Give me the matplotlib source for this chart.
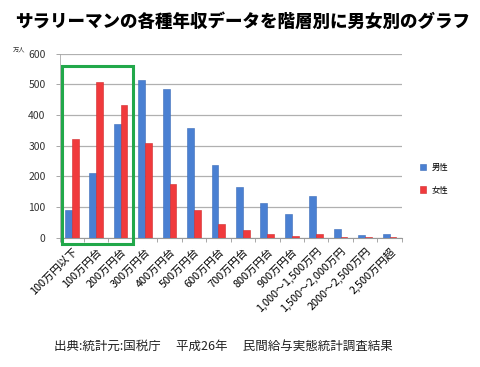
import numpy as np
import matplotlib.pyplot as plt
from matplotlib.patches import Rectangle

plt.rcParams['font.family'] = ['Noto Sans CJK JP', 'DejaVu Sans']

categories = ["100万円以下", "100万円台", "200万円台", "300万円台", "400万円台",
              "500万円台", "600万円台", "700万円台", "800万円台", "900万円台",
              "1,000～1,500万円", "1,500～2,000万円", "2000～2,500万円", "2,500万円超"]
male = [91, 210, 370, 514, 486, 358, 236, 166, 112, 76, 136, 29, 9, 11]
female = [323, 509, 431, 308, 176, 91, 45, 24, 12, 6, 12, 2, 2, 2]

x = np.arange(len(categories))
w = 0.28

fig = plt.figure(figsize=(4.8, 3.67), dpi=100)
ax = fig.add_axes([0.124, 0.352, 0.713, 0.502])

ax.bar(x - w / 2, male, w, color="#4a80d2", edgecolor="#3a6cb8", linewidth=0.4, label="男性", zorder=3)
ax.bar(x + w / 2, female, w, color="#f03a3c", edgecolor="#d02a2c", linewidth=0.4, label="女性", zorder=3)

ax.set_xlim(-0.5, len(categories) - 0.5)
ax.set_ylim(0, 600)
ax.set_yticks(range(0, 601, 100))
ax.yaxis.grid(True, color="#b0b0b0", linewidth=0.9, zorder=0)
ax.tick_params(axis="y", labelsize=7.5, colors="#333333", length=3, width=0.6, pad=7)
ax.tick_params(axis="y", color="#999999")

ax.set_xticks(x)
ax.set_xticklabels(categories, rotation=45, ha="right", rotation_mode="anchor", fontsize=7.8)
ax.tick_params(axis="x", length=0, pad=6)
ax.set_xticks(np.arange(-0.5, len(categories), 1), minor=True)
ax.tick_params(axis="x", which="minor", length=3, width=0.6, color="#999999")

for side in ["top", "right"]:
    ax.spines[side].set_visible(False)
ax.spines["left"].set_color("#aaaaaa")
ax.spines["left"].set_linewidth(0.6)
ax.spines["bottom"].set_color("#999999")
ax.spines["bottom"].set_linewidth(0.8)

# highlight box around the low-income groups
ax.add_patch(Rectangle((-0.39, -20), 2.91, 581, fill=False, edgecolor="#22a84a",
                       linewidth=2.2, clip_on=False, zorder=5))

ax.legend(loc="center left", bbox_to_anchor=(1.03, 0.32), frameon=False, fontsize=6,
          handlelength=0.8, handleheight=0.8, labelspacing=1.6, handletextpad=0.6)

fig.text(0.505, 0.94, "サラリーマンの各種年収データを階層別に男女別のグラフ", ha="center",
         va="center", fontsize=12.6, fontweight="heavy")
fig.text(0.027, 0.86, "万人", fontsize=4.5, color="#333333")
fig.text(0.113, 0.057, "出典:統計元:国税庁　 平成26年　 民間給与実態統計調査結果", ha="left",
         va="center", fontsize=9, color="#222222")

fig.savefig("out.png", dpi=100, facecolor="white")
